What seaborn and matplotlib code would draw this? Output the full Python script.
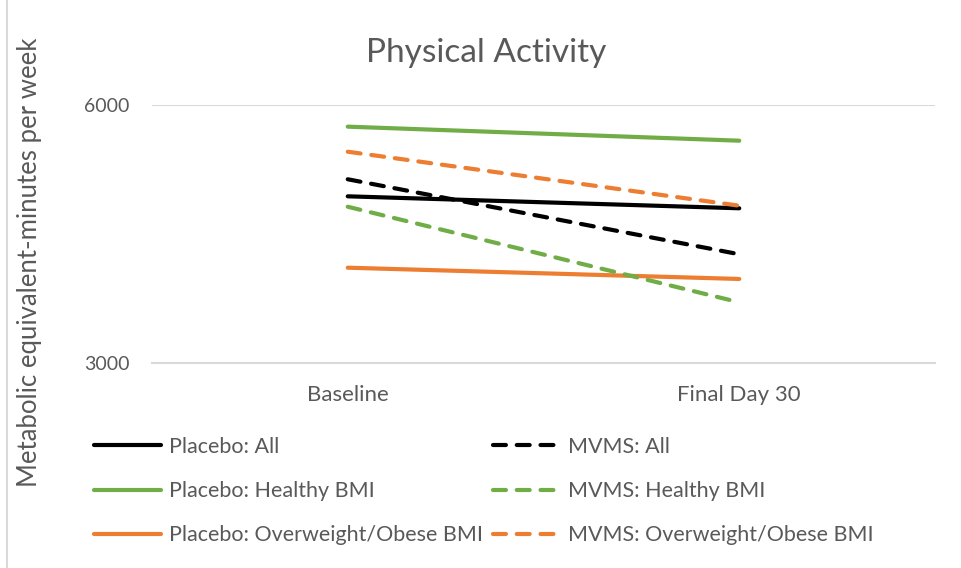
import matplotlib
matplotlib.use("Agg")
import matplotlib.pyplot as plt
from matplotlib.lines import Line2D
import pandas as pd
import seaborn as sns

# data
timepoints = ["Baseline", "Final Day 30"]
series_names = ["Placebo: All", "Placebo: Healthy BMI", "Placebo: Overweight/Obese BMI",
                "MVMS: All", "MVMS: Healthy BMI", "MVMS: Overweight/Obese BMI"]
placebo_all = [4936, 4797]
placebo_healthy = [5745, 5582]
placebo_overweight = [4107, 3976]
mvms_all = [5134, 4263]
mvms_healthy = [4815, 3705]
mvms_overweight = [5454, 4827]
y_ticks = [3000, 6000]

BLACK = "#000000"
GREEN = "#70AD47"
ORANGE = "#ED7D31"
TEXT = "#595959"
GRID = "#D9D9D9"

values = [placebo_all, placebo_healthy, placebo_overweight,
          mvms_all, mvms_healthy, mvms_overweight]
rows = []
for name, vals in zip(series_names, values):
    for t, v in zip(timepoints, vals):
        rows.append({"series": name, "time": t, "value": v})
df = pd.DataFrame(rows)

palette = dict(zip(series_names, [BLACK, GREEN, ORANGE, BLACK, GREEN, ORANGE]))
dash = (3.1, 2.6)
dashes = dict(zip(series_names, ["", "", "", dash, dash, dash]))

sns.set_style("white")
plt.rcParams["font.family"] = ["Lato", "DejaVu Sans"]

fig = plt.figure(figsize=(9.62, 5.68), dpi=100)
ax = fig.add_axes([152 / 962, 1 - 363 / 568, (935 - 152) / 962, (363 - 104.7) / 568])

sns.lineplot(data=df, x="time", y="value", hue="series", style="series",
             hue_order=series_names, style_order=series_names,
             palette=palette, dashes=dashes, linewidth=3, errorbar=None,
             legend=False, ax=ax)
for line in ax.get_lines():
    line.set_solid_capstyle("round")
    line.set_dash_capstyle("round")

ax.set_xlim(-0.5, 1.5)
ax.set_ylim(3000, 6000)
ax.set_yticks(y_ticks)
ax.set_xlabel("")
ax.set_ylabel("")
for s in ["top", "right", "left"]:
    ax.spines[s].set_visible(False)
ax.spines["bottom"].set_color(GRID)
ax.spines["bottom"].set_linewidth(1.5)
ax.axhline(6000, color=GRID, linewidth=1.5, zorder=0)
ax.tick_params(axis="both", length=0, colors=TEXT)
ax.tick_params(axis="x", pad=16, labelsize=16)
ax.tick_params(axis="y", pad=16, labelsize=14)

fig.text(486.5 / 962, 1 - 53 / 568, "Physical Activity", ha="center", va="center",
         fontsize=24, color=TEXT)
fig.text(30 / 962, 1 - 262 / 568, "Metabolic equivalent-minutes per week",
         rotation=90, ha="center", va="center", fontsize=18.5, color=TEXT)

handles = ax.get_lines()[:6]
fig.legend(handles, series_names, ncol=2, loc="upper left",
           bbox_to_anchor=(94 / 962, 1 - 437 / 568), frameon=False,
           fontsize=15.5, labelcolor=TEXT, handlelength=3.1, handletextpad=0.37,
           labelspacing=1.12, columnspacing=0.5, borderpad=0, borderaxespad=0)

fig.add_artist(Line2D([7.5 / 962, 7.5 / 962], [0, 1], color=GRID, linewidth=1.5))

fig.savefig("out.png", dpi=100)
